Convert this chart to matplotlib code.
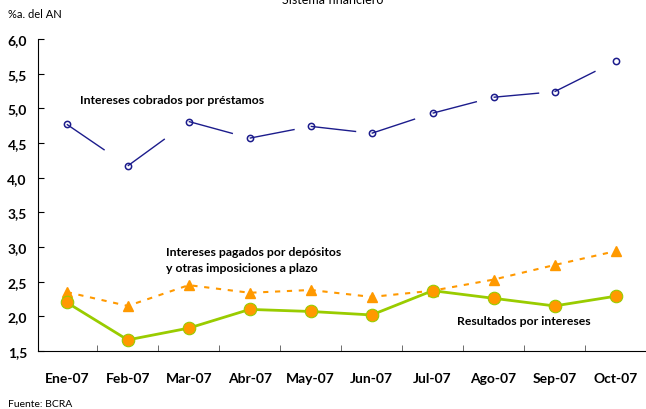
import matplotlib.pyplot as plt

plt.rcParams['font.family'] = ['Lato', 'DejaVu Sans']

meses = ['Ene-07', 'Feb-07', 'Mar-07', 'Abr-07', 'May-07',
         'Jun-07', 'Jul-07', 'Ago-07', 'Sep-07', 'Oct-07']
cobrados = [4.77, 4.17, 4.81, 4.57, 4.74, 4.64, 4.93, 5.16, 5.24, 5.68]
pagados = [2.35, 2.15, 2.45, 2.34, 2.38, 2.28, 2.37, 2.53, 2.74, 2.94]
resultados = [2.20, 1.66, 1.83, 2.10, 2.07, 2.02, 2.37, 2.26, 2.15, 2.29]
yticks = [1.5, 2.0, 2.5, 3.0, 3.5, 4.0, 4.5, 5.0, 5.5, 6.0]

AZUL = '#1c1c8c'
VERDE = '#99cc00'
NARANJA = '#ff9900'

fig = plt.figure(figsize=(6.46, 4.10), dpi=100)
ax = fig.add_axes([38 / 646, 1 - 352 / 410, 1 - 38 / 646, (352 - 40) / 410])
x = list(range(len(meses)))

# prestamos: long dash that restarts on every segment
for i in range(len(x) - 1):
    ax.plot(x[i:i + 2], cobrados[i:i + 2], color=AZUL, lw=1.0,
            dashes=(33, 30), zorder=2)
ax.plot(x, cobrados, ls='none', marker='o', ms=4.5, mfc='none',
        mec=AZUL, mew=1.1, zorder=3)

ax.plot(x, pagados, color=NARANJA, lw=1.5, dashes=(2.5, 3.2),
        marker='^', ms=7, mfc=NARANJA, mec=NARANJA, zorder=3)
ax.plot(x, resultados, color=VERDE, lw=2.0, marker='o', ms=9,
        mfc=NARANJA, mec=VERDE, mew=0.8, zorder=4)

ax.set_ylim(1.5, 6.0)
ax.set_xlim(-0.472, 9.43)
ax.set_yticks(yticks)
ax.set_yticklabels([f'{v:.1f}'.replace('.', ',') for v in yticks],
                   fontsize=10, fontweight='bold')
ax.set_xticks(x)
ax.set_xticklabels(meses, fontsize=10, fontweight='bold')
ax.set_xticks([i + 0.5 for i in x], minor=True)
ax.tick_params(axis='x', which='major', length=0, pad=15)
ax.tick_params(axis='x', which='minor', direction='in', length=4,
               color='#555555')
ax.tick_params(axis='y', direction='in', length=4, pad=8)
for s in ['top', 'right']:
    ax.spines[s].set_visible(False)

ax.text(0.22, 5.08, 'Intereses cobrados por préstamos',
        fontsize=8.8, fontweight='bold')
ax.text(1.63, 2.66, 'Intereses pagados por depósitos\ny otras imposiciones a plazo',
        fontsize=8.8, fontweight='bold', linespacing=1.5)
ax.text(6.4, 1.89, 'Resultados por intereses', fontsize=8.8, fontweight='bold')

fig.text(333 / 646, 1.0, 'Sistema financiero', ha='center', va='center',
         fontsize=9)
fig.text(8 / 646, 1 - 15 / 410, '%a. del AN', fontsize=8, va='center')
fig.text(8 / 646, 1 - 405 / 410, 'Fuente: BCRA', fontsize=7.5, va='center')

fig.savefig('out.png', dpi=100)
